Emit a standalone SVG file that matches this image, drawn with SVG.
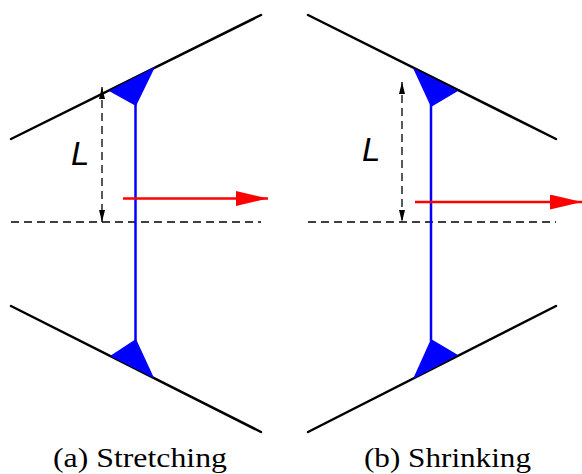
<svg xmlns="http://www.w3.org/2000/svg" width="582" height="474" viewBox="0 0 582 474">
<defs>
<style>
.wall{stroke:#000;stroke-width:2.5;fill:none;stroke-linecap:round}
.fiber{stroke:#0000ff;stroke-width:2.5;fill:none}
.tri{fill:#0000ff;stroke:none}
.dash{stroke:#000;stroke-width:1.3;fill:none;stroke-dasharray:8,5}
.vdash{stroke:#000;stroke-width:1.3;fill:none;stroke-dasharray:8,5}
.vel{stroke:#ff0000;stroke-width:2.5;fill:none}
.lab{font-family:"Liberation Sans",Arial,sans-serif;font-style:italic;font-size:33px;fill:#000}
.cap{font-family:'Liberation Serif','DejaVu Serif',serif;font-size:27px;fill:#000}
</style>
<marker id="ah" viewBox="0 0 12 6" refX="12" refY="3" markerWidth="12" markerHeight="6" markerUnits="userSpaceOnUse" orient="auto-start-reverse">
<path d="M0,0 L12,3 L0,6 Z" fill="#000"/>
</marker>
<marker id="rh" viewBox="0 0 32 15" refX="32" refY="7.5" markerWidth="32" markerHeight="15" markerUnits="userSpaceOnUse" orient="auto">
<path d="M0,0 L32,7.5 L0,15 Z" fill="#ff0000"/>
</marker>
</defs>
<g id="panel-a">
<line class="wall" x1="11" y1="139" x2="261" y2="15"/>
<line class="wall" x1="11" y1="306" x2="261" y2="432"/>
<line class="dash" x1="11" y1="222" x2="261" y2="222"/>
<line class="fiber" x1="135.5" y1="104" x2="135.5" y2="341"/>
<polygon class="tri" points="109,91 155,67 136,106"/>
<polygon class="tri" points="110,356 136,339 154,378"/>
<text class="lab" x="71" y="165">L</text>
<text class="cap" x="53" y="467" textLength="174" lengthAdjust="spacingAndGlyphs">(a) Stretching</text>
</g>
<g id="panel-b">
<line class="wall" x1="308" y1="15" x2="556" y2="139"/>
<line class="wall" x1="308" y1="432" x2="556" y2="306"/>
<line class="dash" x1="308" y1="222" x2="556" y2="222"/>
<line class="fiber" x1="431" y1="104" x2="431" y2="341"/>
<polygon class="tri" points="413,68 458,91 431,107"/>
<polygon class="tri" points="413,379 431,339 458,355"/>
<text class="lab" x="362" y="161">L</text>
<text class="cap" x="364" y="467" textLength="167" lengthAdjust="spacingAndGlyphs">(b) Shrinking</text>
</g>
<g id="connectors">
<line class="vdash" x1="102" y1="87" x2="102" y2="222" marker-start="url(#ah)" marker-end="url(#ah)"/>
<line class="vdash" x1="402" y1="82" x2="402" y2="222" marker-start="url(#ah)" marker-end="url(#ah)"/>
<line class="vel" x1="123" y1="198.5" x2="268" y2="198.5" marker-end="url(#rh)"/>
<line class="vel" x1="415" y1="202" x2="582" y2="202" marker-end="url(#rh)"/>
</g>
</svg>
